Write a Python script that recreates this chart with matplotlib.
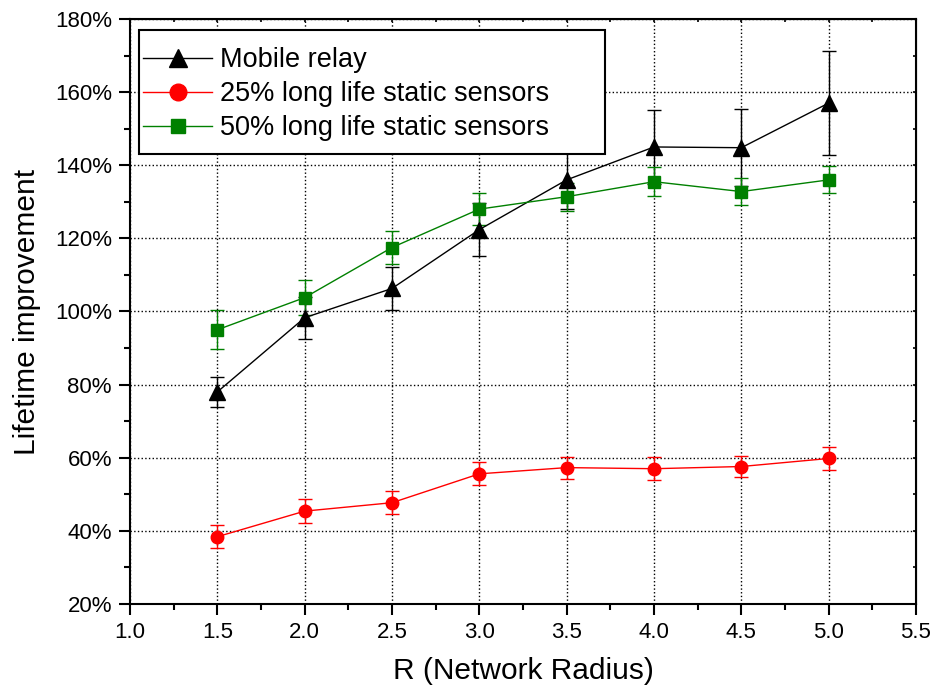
import numpy as np
import matplotlib.pyplot as plt
from matplotlib.ticker import MultipleLocator, FuncFormatter
from matplotlib.lines import Line2D
from matplotlib.patches import Rectangle
from matplotlib.transforms import IdentityTransform

plt.rcParams.update({'font.family': ['Liberation Sans', 'DejaVu Sans'], 'font.size': 16})

# --- data ---
radius = [1.5, 2.0, 2.5, 3.0, 3.5, 4.0, 4.5, 5.0]

mobile = [78.0, 98.3, 106.3, 122.4, 136.0, 145.0, 144.8, 157.0]
mobile_err = [4.2, 5.8, 6.0, 7.2, 8.0, 10.0, 10.5, 14.3]

static25 = [38.4, 45.4, 47.7, 55.6, 57.3, 57.0, 57.6, 59.8]
static25_err = [3.2, 3.3, 3.1, 3.1, 3.0, 3.1, 3.0, 3.2]

static50 = [95.0, 103.8, 117.5, 128.0, 131.4, 135.5, 132.8, 136.0]
static50_err = [5.3, 4.7, 4.5, 4.4, 3.8, 4.0, 3.8, 3.7]

labels = ['Mobile relay', '25% long life static sensors', '50% long life static sensors']
colors = ['black', 'red', '#008000']
markers = ['^', 'o', 's']
msizes = [11, 9, 8.5]
leg_msizes = [13.5, 12, 10.5]

fig = plt.figure(figsize=(9.36, 6.96), dpi=100)
ax = fig.add_axes([0.1389, 0.1322, 0.8397, 0.8405])

series = [(mobile, mobile_err), (static25, static25_err), (static50, static50_err)]
handles = []
for (vals, errs), c, m, ms, lms, lab in zip(series, colors, markers, msizes, leg_msizes, labels):
    ax.errorbar(radius, vals, yerr=errs, color=c, lw=1.0, marker=m, ms=ms,
                elinewidth=1.0, capsize=5, capthick=1.0, zorder=3)
    handles.append(Line2D([], [], color=c, lw=1.0, marker=m, ms=lms, label=lab))

ax.set_xlim(1.0, 5.5)
ax.set_ylim(20, 180)
ax.xaxis.set_major_locator(MultipleLocator(0.5))
ax.xaxis.set_minor_locator(MultipleLocator(0.25))
ax.yaxis.set_major_locator(MultipleLocator(20))
ax.yaxis.set_minor_locator(MultipleLocator(10))
ax.xaxis.set_major_formatter(FuncFormatter(lambda v, p: f'{v:.1f}'))
ax.yaxis.set_major_formatter(FuncFormatter(lambda v, p: f'{v:.0f}%'))

ax.grid(True, which='major', color='black', linestyle=':', linewidth=1.0)
ax.set_axisbelow(True)

for s in ax.spines.values():
    s.set_linewidth(1.5)
ax.tick_params(which='major', direction='out', length=8, width=1.5, labelsize=16, pad=5)
ax.tick_params(which='minor', direction='out', length=4.5, width=1.5)

# small inward ticks on top and right
top = ax.secondary_xaxis('top')
top.xaxis.set_major_locator(MultipleLocator(0.5))
top.xaxis.set_minor_locator(MultipleLocator(0.25))
top.tick_params(which='both', direction='in', length=2.5, width=1.2, labeltop=False)
right = ax.secondary_yaxis('right')
right.yaxis.set_major_locator(MultipleLocator(20))
right.yaxis.set_minor_locator(MultipleLocator(10))
right.tick_params(which='both', direction='in', length=2.5, width=1.2, labelright=False)

ax.set_xlabel('R (Network Radius)', fontsize=21.5, labelpad=10)
ax.set_ylabel('Lifetime improvement', fontsize=21.5, labelpad=10)

# legend without its own frame; frame drawn below with more vertical padding
leg = ax.legend(handles=handles, loc='upper left', bbox_to_anchor=(0.0115, 0.0, 0.593, 0.959),
                mode='expand', borderaxespad=0, fontsize=19.5, frameon=False,
                handlelength=2.55, labelspacing=0.3, borderpad=0.15, handletextpad=0.3)

fig.canvas.draw()
bb = leg.get_window_extent(fig.canvas.get_renderer())
pad_top, pad_bottom = 13, 9
frame = Rectangle((bb.x0, bb.y0 - pad_bottom), bb.width, bb.height + pad_top + pad_bottom,
                  transform=IdentityTransform(), facecolor='white', edgecolor='black',
                  linewidth=1.5, zorder=4.9, clip_on=False)
ax.add_artist(frame)

plt.savefig('out.png', dpi=100)
